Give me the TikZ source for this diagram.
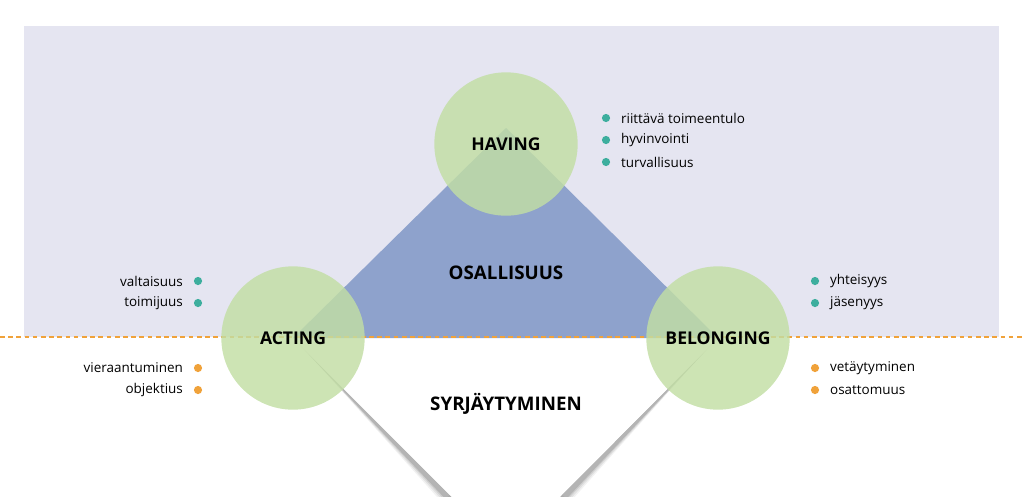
\documentclass[tikz,border=0pt]{standalone}
\usepackage{fontspec}
\setmainfont{Open Sans}
\usetikzlibrary{positioning}
\definecolor{panel}{HTML}{E5E5F1}
\definecolor{tri}{HTML}{8EA2CC}
\definecolor{leaf}{HTML}{C2DEA4}
\definecolor{teal}{HTML}{3DAE9E}
\definecolor{amber}{HTML}{F0A23A}
\tikzset{
  dim/.style={circle,fill=leaf,fill opacity=.82,text opacity=1,minimum size=4.3cm,inner sep=0pt,font=\fontsize{15}{18}\selectfont\bfseries},
  big/.style={font=\fontsize{16}{19}\selectfont\bfseries},
  item/.style={font=\fontsize{11.5}{14}\selectfont,inner sep=0pt},
  dotT/.style={circle,fill=teal,minimum size=7pt,inner sep=0pt},
  dotA/.style={circle,fill=amber,minimum size=7pt,inner sep=0pt}
}
\begin{document}
\begin{tikzpicture}[x=0.03cm,y=-0.03cm]
\useasboundingbox (0,0) rectangle (1023,496);
\fill[panel] (24,26) rectangle (999,337);
% shadow of the lower triangle
\foreach \o/\op in {14/.05,10/.07,6/.09,3/.12}{
  \fill[black,opacity=\op] (293+\o,338+\o) -- (506,560+\o) -- (718-\o,338+\o) -- (718,338) -- (506,551) -- (293,338) -- cycle;
  \fill[black,opacity=\op] (506,560) circle (72+\o);
}
\fill[white] (293,338) -- (506,551) -- (718,338) -- cycle;
\fill[white] (506,560) circle (72);
\fill[tri] (506,128) -- (718,338) -- (293,338) -- cycle;
\draw[amber,line width=2.2pt,dash pattern=on 4pt off 3pt] (0,337) -- (1023,337);
\node[dim] (having) at (506,144) {HAVING};
\node[dim] (acting) at (293,338) {ACTING};
\node[dim] (belonging) at (718,338) {BELONGING};
\node[big] (osallisuus) at (506,273) {OSALLISUUS};
\node[big] (syrj) at (506,404) {SYRJÄYTYMINEN};
% lists
\foreach \t [count=\i] in {riittävä toimeentulo,hyvinvointi,turvallisuus}{
  \node[dotT] (h\i) at (606,96+22*\i) {};
  \node[item,right=9pt of h\i] {\t};
}
\foreach \t [count=\i] in {yhteisyys,jäsenyys}{
  \node[dotT] (b\i) at (815,259+22*\i) {};
  \node[item,right=9pt of b\i] {\t};
}
\foreach \t [count=\i] in {vetäytyminen,osattomuus}{
  \node[dotA] (c\i) at (815,346+22*\i) {};
  \node[item,right=9pt of c\i] {\t};
}
\foreach \t [count=\i] in {valtaisuus,toimijuus}{
  \node[dotT] (a\i) at (198,259+22*\i) {};
  \node[item,left=9pt of a\i] {\t};
}
\foreach \t [count=\i] in {vieraantuminen,objektius}{
  \node[dotA] (d\i) at (198,346+22*\i) {};
  \node[item,left=9pt of d\i] {\t};
}
\end{tikzpicture}
\end{document}
